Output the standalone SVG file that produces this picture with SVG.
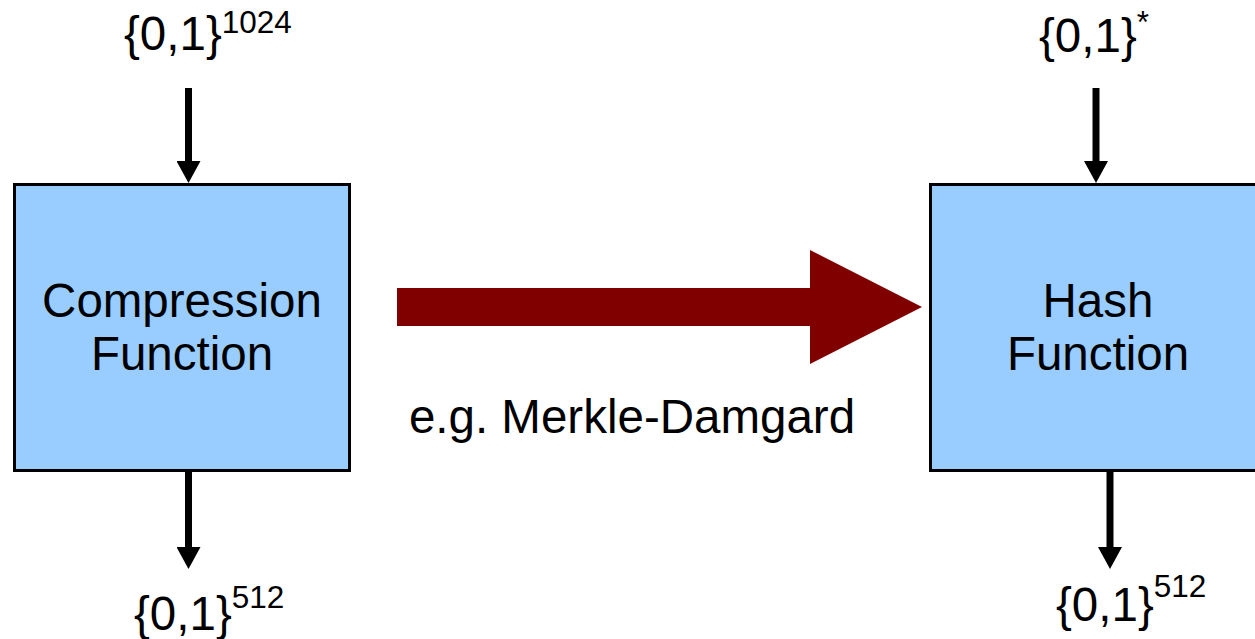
<svg xmlns="http://www.w3.org/2000/svg" width="1255" height="639" viewBox="0 0 1255 639">
  <style>
    .box { fill: #99ccff; stroke: #000; stroke-width: 3; }
    .lbl { font-family: "Liberation Sans", Arial, sans-serif; font-size: 47.5px; fill: #000; }
    .sup { font-size: 31.5px; }
    .wire { stroke: #000; stroke-width: 7; fill: none; marker-end: url(#head); }
  </style>
  <defs>
    <marker id="head" markerUnits="userSpaceOnUse" viewBox="0 0 22 24" markerWidth="22" markerHeight="24" refX="0" refY="12" orient="auto">
      <path d="M0,0 L22,12 L0,24 Z" fill="#000"/>
    </marker>
  </defs>
  <rect width="1255" height="639" fill="#fff"/>

  <!-- compression function block -->
  <g id="compression">
    <rect class="box" x="14.5" y="184.5" width="335" height="286"/>
    <text class="lbl" x="182" y="317" text-anchor="middle">Compression</text>
    <text class="lbl" x="182" y="370" text-anchor="middle">Function</text>
  </g>

  <!-- hash function block (runs past the right edge) -->
  <g id="hash">
    <rect class="box" x="930.5" y="184.5" width="335" height="286"/>
    <text class="lbl" x="1098" y="317" text-anchor="middle">Hash</text>
    <text class="lbl" x="1098" y="370" text-anchor="middle">Function</text>
  </g>

  <!-- domain / range labels -->
  <g id="in-compression">
    <text class="lbl" x="124" y="50">{0,1}<tspan class="sup" dy="-17">1024</tspan></text>
  </g>
  <g id="out-compression">
    <text class="lbl" x="134" y="630">{0,1}<tspan class="sup" dy="-22">512</tspan></text>
  </g>
  <g id="in-hash">
    <text class="lbl" x="1039" y="52">{0,1}<tspan class="sup" dy="-19">*</tspan></text>
  </g>
  <g id="out-hash">
    <text class="lbl" x="1056" y="621">{0,1}<tspan class="sup" dy="-24">512</tspan></text>
  </g>

  <!-- construction label -->
  <g id="construction">
    <text class="lbl" x="632" y="433" text-anchor="middle">e.g. Merkle-Damgard</text>
  </g>

  <!-- connectors -->
  <g id="connectors">
    <line class="wire" x1="188.5" y1="88" x2="188.5" y2="161"/>
    <line class="wire" x1="188.5" y1="471" x2="188.5" y2="547"/>
    <line class="wire" x1="1096" y1="88" x2="1096" y2="161"/>
    <line class="wire" x1="1110" y1="471" x2="1110" y2="547"/>
    <path d="M397,288 L810,288 L810,250 L922,307 L810,364 L810,326 L397,326 Z" fill="#800000"/>
  </g>
</svg>
